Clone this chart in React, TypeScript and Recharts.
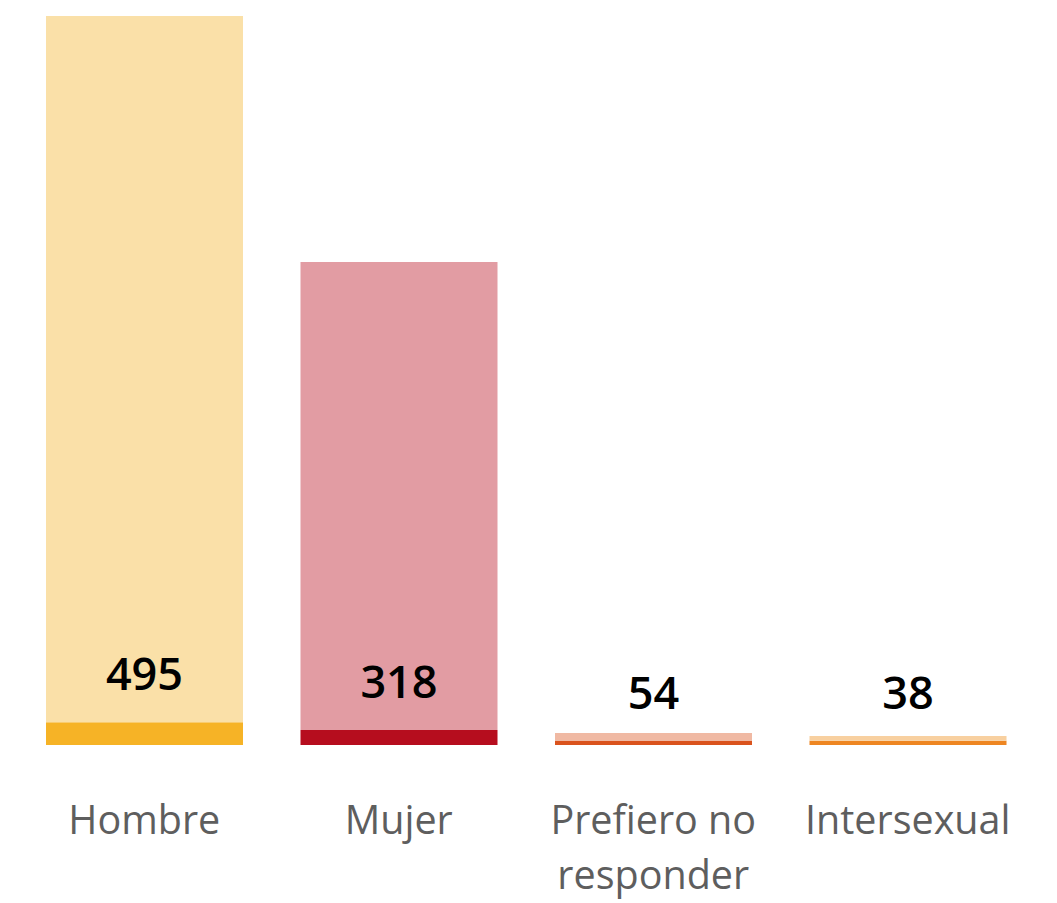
import { Bar, BarChart, Cell, LabelList, XAxis, YAxis } from "recharts"

const categories = ["Hombre", "Mujer", "Prefiero no responder", "Intersexual"]
const counts = [495, 318, 54, 38]
// bar segments (same units as the tallest bar = 495)
const baseSegment = [15.4, 10.2, 2.7, 2.9]
const fillSegment = [479.6, 317.8, 5.4, 3.2]

const BASE_COLORS = ["#F6B326", "#B60D1E", "#DA531D", "#EE8622"]
const FILL_COLORS = ["#FAE0A8", "#E29CA3", "#F0B9A3", "#F8D0A0"]

const data = categories.map((name, i) => ({
  name,
  count: counts[i],
  base: baseSegment[i],
  fill: fillSegment[i],
}))

const FONT = "'Open Sans', 'Segoe UI', sans-serif"

function CountLabel(props: any) {
  const { x, y, width, index } = props
  return (
    <text
      x={x + width / 2}
      y={y - 32}
      textAnchor="middle"
      fontFamily={FONT}
      fontSize={45}
      fontWeight={600}
      fill="#000"
    >
      {counts[index]}
    </text>
  )
}

function CategoryTick(props: any) {
  const { x, y, payload } = props
  const words: string[] = payload.value.split(" ")
  const lines = words.length > 2 ? [words.slice(0, 2).join(" "), words.slice(2).join(" ")] : [payload.value]
  return (
    <text x={x} y={y + 81} textAnchor="middle" fontFamily={FONT} fontSize={39.5} fill="#5E5E5E">
      {lines.map((l, i) => (
        <tspan key={i} x={x} dy={i === 0 ? 0 : 55}>
          {l}
        </tspan>
      ))}
    </text>
  )
}

export default function App() {
  return (
    <div style={{ width: 1041, height: 895, background: "#fff" }}>
      <BarChart
        width={1041}
        height={895}
        data={data}
        margin={{ top: 8, right: 14, bottom: 0, left: 9 }}
        barCategoryGap={29}
      >
        <XAxis dataKey="name" axisLine={false} tickLine={false} tick={<CategoryTick />} interval={0} height={158} />
        <YAxis hide domain={[0, 495]} />
        <Bar dataKey="base" stackId="a" isAnimationActive={false}>
          {data.map((_, i) => (
            <Cell key={`base-${i}`} fill={BASE_COLORS[i]} />
          ))}
          <LabelList dataKey="count" content={<CountLabel />} />
        </Bar>
        <Bar dataKey="fill" stackId="a" isAnimationActive={false}>
          {data.map((_, i) => (
            <Cell key={`fill-${i}`} fill={FILL_COLORS[i]} />
          ))}
        </Bar>
      </BarChart>
    </div>
  )
}
